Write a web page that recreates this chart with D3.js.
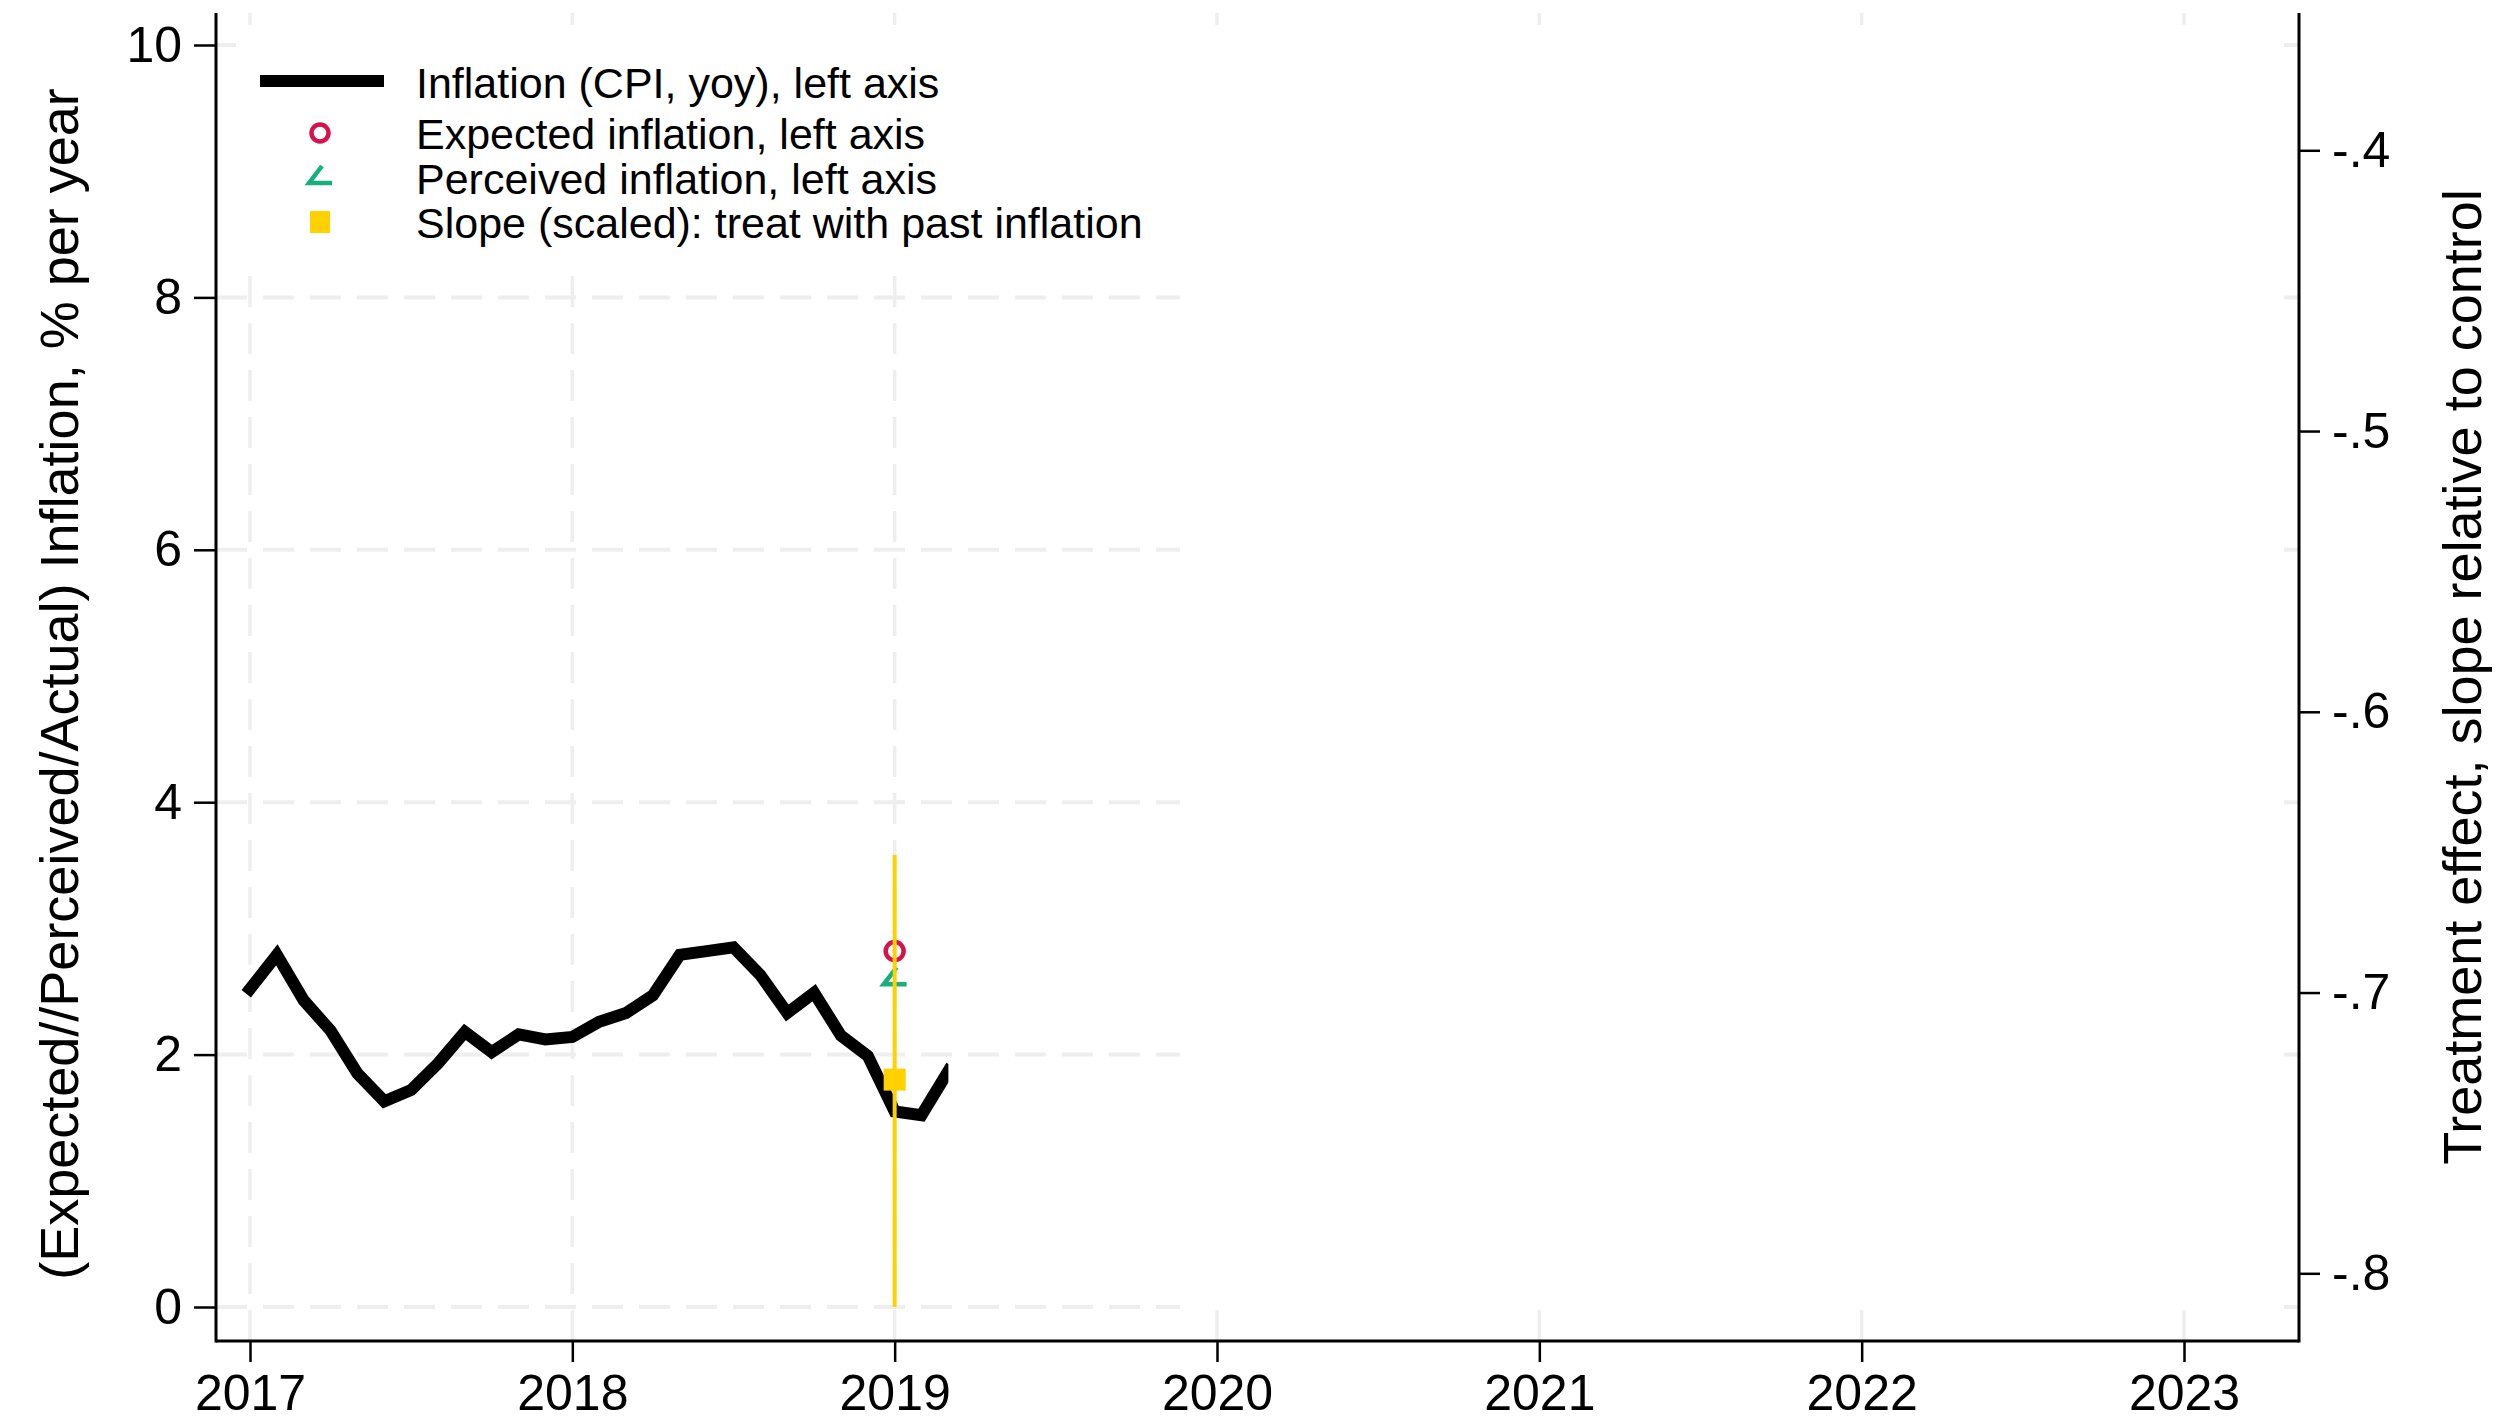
<!DOCTYPE html>
<html>
<head>
<meta charset="utf-8">
<script src="https://cdn.jsdelivr.net/npm/d3@7"></script>
<style>
  html, body { margin: 0; padding: 0; background: #fff; }
  svg { display: block; }
  text { font-family: "Liberation Sans", Arial, Helvetica, sans-serif; fill: #000; }
</style>
</head>
<body>
<svg id="chart" width="2502" height="1421"></svg>
<script>
// ---- data ----
const yearTicks = [2017, 2018, 2019, 2020, 2021, 2022, 2023];
const leftTicks = [0, 2, 4, 6, 8, 10];
const rightTicks = [-0.8, -0.7, -0.6, -0.5, -0.4];
const rightTickLabels = ["-.8", "-.7", "-.6", "-.5", "-.4"];

// CPI inflation, year over year, % (monthly)
const cpiMonths = [
  "2017-01","2017-02","2017-03","2017-04","2017-05","2017-06","2017-07","2017-08","2017-09","2017-10","2017-11","2017-12",
  "2018-01","2018-02","2018-03","2018-04","2018-05","2018-06","2018-07","2018-08","2018-09","2018-10","2018-11","2018-12",
  "2019-01","2019-02","2019-03"
];
const cpiValues = [
  2.52, 2.79, 2.43, 2.19, 1.85, 1.63, 1.72, 1.93, 2.18, 2.02, 2.16, 2.12,
  2.14, 2.26, 2.33, 2.47, 2.79, 2.82, 2.85, 2.63, 2.33, 2.49, 2.15, 1.99,
  1.55, 1.52, 1.87
];

// survey wave
const surveyMonth = "2019-01";
const expectedValue = 2.82;   // left axis
const perceivedValue = 2.62;  // left axis
const slopeValue = -0.731;    // right axis
const slopeLow = -0.812;
const slopeHigh = -0.651;

const legendLabels = [
  "Inflation (CPI, yoy), left axis",
  "Expected inflation, left axis",
  "Perceived inflation, left axis",
  "Slope (scaled): treat with past inflation"
];

const leftTitle = "(Expected//Perceived/Actual) Inflation, % per year";
const rightTitle = "Treatment effect, slope relative to control";

// ---- helpers ----
const toYear = s => { const [y, m] = s.split("-").map(Number); return y + (m - 1) / 12; };

// ---- layout ----
const axL = 216, axR = 2299, axT = 13, axB = 1341;
const maskStart = 2019.885;   // later periods are blanked out

const COL_CPI = "#000000";
const COL_EXP = "#d6124f";
const COL_PER = "#17b07d";
const COL_SLOPE = "#ffd100";
const COL_GRID = "#eeeeee";

const svg = d3.select("#chart");

const x = d3.scaleLinear().domain([2017, 2023]).range([250, 2184]);
const yL = d3.scaleLinear().domain([0, 10]).range([1307, 45]);
const yR = d3.scaleLinear().domain([-0.812, -0.3625]).range([1307, 45]);

// ---- gridlines ----
const grid = svg.append("g");
grid.selectAll("line.h").data(leftTicks).join("line")
  .attr("x1", axL).attr("x2", axR)
  .attr("y1", d => yL(d)).attr("y2", d => yL(d))
  .attr("stroke", COL_GRID).attr("stroke-width", 4)
  .attr("stroke-dasharray", "31 16");
grid.selectAll("line.v").data(yearTicks).join("line")
  .attr("x1", d => x(d)).attr("x2", d => x(d))
  .attr("y1", axB).attr("y2", axT)
  .attr("stroke", COL_GRID).attr("stroke-width", 3.5)
  .attr("stroke-dasharray", "31 16");

// ---- blank-out panels ----
const mask = svg.append("g").attr("fill", "#fff");
mask.append("rect").attr("x", 236).attr("y", 33)
  .attr("width", 2274 - 236).attr("height", 270 - 33);
mask.append("rect").attr("x", x(maskStart)).attr("y", 33)
  .attr("width", 2274 - x(maskStart)).attr("height", 1309 - 33);

// ---- CPI line ----
const cpi = cpiMonths.map((m, i) => ({ t: toYear(m), v: cpiValues[i] }));
svg.append("clipPath").attr("id", "cpiClip")
  .append("rect").attr("x", axL).attr("y", axT)
  .attr("width", x(cpi[cpi.length - 1].t) - axL).attr("height", axB - axT);
svg.append("path").datum(cpi)
  .attr("clip-path", "url(#cpiClip)")
  .attr("fill", "none").attr("stroke", COL_CPI).attr("stroke-width", 12)
  .attr("stroke-linejoin", "miter").attr("stroke-linecap", "square")
  .attr("d", d3.line().x(d => x(d.t)).y(d => yL(d.v)));

// ---- survey markers ----
const sx = x(toYear(surveyMonth));
const triPath = (cx, cy) => `M${cx + 2},${cy - 9} L${cx - 11},${cy + 8} L${cx + 12},${cy + 8}`;

svg.append("circle").attr("cx", sx).attr("cy", yL(expectedValue)).attr("r", 9)
  .attr("fill", "none").attr("stroke", COL_EXP).attr("stroke-width", 4.5);
svg.append("path").attr("d", triPath(sx, yL(perceivedValue)))
  .attr("fill", "none").attr("stroke", COL_PER).attr("stroke-width", 4.5);

svg.append("line").attr("x1", sx).attr("x2", sx)
  .attr("y1", yR(slopeLow)).attr("y2", yR(slopeHigh))
  .attr("stroke", COL_SLOPE).attr("stroke-width", 4);
svg.append("rect").attr("x", sx - 11).attr("y", yR(slopeValue) - 11)
  .attr("width", 22).attr("height", 22).attr("fill", COL_SLOPE);

// ---- axes ----
const tickFont = 50;
const styleAxis = g => {
  g.select(".domain").remove();
  g.selectAll(".tick line").attr("stroke", "#000").attr("stroke-width", 2.5);
  g.selectAll(".tick text").attr("font-size", tickFont).attr("fill", "#000")
    .attr("font-family", '"Liberation Sans", Arial, sans-serif');
};

svg.append("g").attr("transform", `translate(${axL},0)`)
  .call(d3.axisLeft(yL).tickValues(leftTicks).tickSize(22).tickPadding(12).tickFormat(d3.format("d")))
  .call(styleAxis);

svg.append("g").attr("transform", `translate(${axR},0)`)
  .call(d3.axisRight(yR).tickValues(rightTicks).tickSize(21).tickPadding(12)
    .tickFormat((d, i) => rightTickLabels[i]))
  .call(styleAxis);

svg.append("g").attr("transform", `translate(0,${axB})`)
  .call(d3.axisBottom(x).tickValues(yearTicks).tickSize(21).tickPadding(12).tickFormat(d3.format("d")))
  .call(styleAxis);

const axisLines = svg.append("g").attr("stroke", "#000").attr("stroke-width", 3);
axisLines.append("line").attr("x1", axL).attr("x2", axL).attr("y1", axT).attr("y2", axB + 1.5);
axisLines.append("line").attr("x1", axR).attr("x2", axR).attr("y1", axT).attr("y2", axB + 1.5);
axisLines.append("line").attr("x1", axL).attr("x2", axR).attr("y1", axB).attr("y2", axB);

// ---- axis titles ----
svg.append("text")
  .attr("transform", `translate(59,684) rotate(-90)`)
  .attr("text-anchor", "middle").attr("dominant-baseline", "central")
  .attr("font-size", 54).text(leftTitle);
svg.append("text")
  .attr("transform", `translate(2462,677) rotate(-90)`)
  .attr("text-anchor", "middle").attr("dominant-baseline", "central")
  .attr("font-size", 54).text(rightTitle);

// ---- legend ----
const legFont = 43;
const rowY = [83, 134, 179, 223];
const symX = 320;
const leg = svg.append("g");
leg.append("line").attr("x1", 260).attr("x2", 384).attr("y1", rowY[0] - 2).attr("y2", rowY[0] - 2)
  .attr("stroke", COL_CPI).attr("stroke-width", 12);
leg.append("circle").attr("cx", symX).attr("cy", rowY[1] - 1).attr("r", 8.5)
  .attr("fill", "none").attr("stroke", COL_EXP).attr("stroke-width", 4.5);
leg.append("path").attr("d", triPath(symX, rowY[2] - 4))
  .attr("fill", "none").attr("stroke", COL_PER).attr("stroke-width", 4.5);
leg.append("rect").attr("x", symX - 10).attr("y", rowY[3] - 12).attr("width", 20).attr("height", 22)
  .attr("fill", COL_SLOPE);
leg.selectAll("text.lab").data(legendLabels).join("text")
  .attr("x", 416).attr("y", (d, i) => rowY[i] + 0.358 * legFont)
  .attr("font-size", legFont).text(d => d);
</script>
</body>
</html>
